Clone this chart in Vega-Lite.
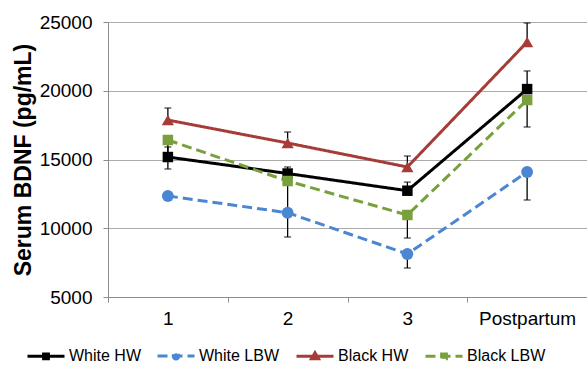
{
  "$schema": "https://vega.github.io/schema/vega-lite/v6.json",
  "width": 479,
  "height": 275,
  "autosize": {"type": "none"},
  "padding": {"left": 108, "top": 22, "right": 0, "bottom": 68},
  "background": "white",
  "config": {
    "view": {"stroke": null},
    "font": "Liberation Sans",
    "axis": {"labelFont": "Liberation Sans", "titleFont": "Liberation Sans", "labelColor": "#000", "titleColor": "#000"},
    "legend": {"labelFont": "Liberation Sans"}
  },
  "data": {
    "values": [
      {"series": "White HW", "time": "1", "value": 15180, "lo": 15180, "hi": 15910, "cap": 15910},
      {"series": "White HW", "time": "2", "value": 13980, "lo": 13980, "hi": 14455, "cap": 14455},
      {"series": "White HW", "time": "3", "value": 12730, "lo": 12730, "hi": 13360, "cap": 13360},
      {"series": "White HW", "time": "Postpartum", "value": 20120, "lo": 20120, "hi": 21440, "cap": 21440},
      {"series": "White LBW", "time": "1", "value": 12345, "lo": 12055, "hi": 12345, "cap": 12055},
      {"series": "White LBW", "time": "2", "value": 11130, "lo": 9364, "hi": 11130, "cap": 9364},
      {"series": "White LBW", "time": "3", "value": 8127, "lo": 7109, "hi": 8127, "cap": 7109},
      {"series": "White LBW", "time": "Postpartum", "value": 14091, "lo": 12055, "hi": 14091, "cap": 12055},
      {"series": "Black HW", "time": "1", "value": 17870, "lo": 17870, "hi": 18745, "cap": 18745},
      {"series": "Black HW", "time": "2", "value": 16200, "lo": 16200, "hi": 17000, "cap": 17000},
      {"series": "Black HW", "time": "3", "value": 14455, "lo": 14455, "hi": 15255, "cap": 15255},
      {"series": "Black HW", "time": "Postpartum", "value": 23545, "lo": 23545, "hi": 24927, "cap": 24927},
      {"series": "Black LBW", "time": "1", "value": 16420, "lo": 14310, "hi": 16420, "cap": 14310},
      {"series": "Black LBW", "time": "2", "value": 13436, "lo": 11400, "hi": 13436, "cap": 11400},
      {"series": "Black LBW", "time": "3", "value": 10964, "lo": 9291, "hi": 10964, "cap": 9291},
      {"series": "Black LBW", "time": "Postpartum", "value": 19327, "lo": 17364, "hi": 19327, "cap": 17364}
    ]
  },
  "encoding": {
    "x": {
      "field": "time", "type": "ordinal", "bandPosition": 0.5,
      "scale": {"type": "band", "domain": ["1", "2", "3", "Postpartum"], "paddingInner": 0, "paddingOuter": 0},
      "axis": {"title": null, "labelAngle": 0, "tickBand": "extent", "domainColor": "#8c8c8c", "tickColor": "#8c8c8c", "tickSize": 5, "labelFontSize": 19, "labelPadding": 7, "grid": false}
    },
    "y": {"field": "value", "type": "quantitative", "scale": {"domain": [5000, 25000], "nice": false},
      "axis": {"values": [5000, 10000, 15000, 20000, 25000], "format": "d", "grid": true, "gridColor": "#ababab", "domainColor": "#8c8c8c", "tickColor": "#8c8c8c", "tickSize": 5, "labelFontSize": 19, "labelPadding": 11, "title": "Serum BDNF (pg/mL)", "titleFontSize": 23, "titleFontWeight": "bold", "titlePadding": 4}}
  },
  "layer": [
    {
      "mark": {"type": "rule", "color": "#000", "strokeWidth": 1.3},
      "encoding": {
        "y": {"field": "lo", "type": "quantitative"},
        "y2": {"field": "hi"}
      }
    },
    {
      "mark": {"type": "tick", "color": "#000", "thickness": 1.3, "size": 7, "orient": "horizontal"},
      "encoding": {"y": {"field": "cap", "type": "quantitative"}}
    },
    {
      "mark": {"type": "line", "strokeWidth": 3},
      "encoding": {
        "stroke": {"field": "series", "type": "nominal", "title": null,
          "scale": {"domain": ["White HW", "White LBW", "Black HW", "Black LBW"], "range": ["#000000", "#4a86d2", "#a63c38", "#78a03c"]}},
        "strokeDash": {"field": "series", "type": "nominal", "title": null,
          "scale": {"domain": ["White HW", "White LBW", "Black HW", "Black LBW"], "range": [[1, 0], [10, 5], [1, 0], [10, 5]]}}
      }
    },
    {
      "transform": [{"filter": "datum.series === 'White HW'"}],
      "mark": {"type": "point", "filled": true, "opacity": 1, "shape": "square", "size": 110, "color": "#000000"}
    },
    {
      "transform": [{"filter": "datum.series === 'White LBW'"}],
      "mark": {"type": "point", "filled": true, "opacity": 1, "shape": "circle", "size": 140, "color": "#4a86d2"}
    },
    {
      "transform": [{"filter": "datum.series === 'Black HW'"}],
      "mark": {"type": "point", "filled": true, "opacity": 1, "shape": "triangle-up", "size": 150, "color": "#a63c38"}
    },
    {
      "transform": [{"filter": "datum.series === 'Black LBW'"}],
      "mark": {"type": "point", "filled": true, "opacity": 1, "shape": "square", "size": 110, "color": "#78a03c"}
    },
    {
      "mark": {"type": "point", "filled": true, "opacity": 0},
      "encoding": {
        "shape": {"field": "series", "type": "nominal", "title": null,
          "scale": {"domain": ["White HW", "White LBW", "Black HW", "Black LBW"],
            "range": ["M-1,0H1M-0.13,-0.13H0.13V0.13H-0.13Z", "M-1,0H1M0.15,0A0.15,0.15 0 1,1 -0.15,0A0.15,0.15 0 1,1 0.15,0Z", "M-1,0H1M0,-0.19L0.19,0.13H-0.19Z", "M-1,0H1M-0.13,-0.13H0.13V0.13H-0.13Z"]},
          "legend": {"orient": "none", "legendX": -82, "legendY": 314, "direction": "horizontal", "symbolSize": 1369, "symbolStrokeWidth": 3, "symbolOpacity": 1, "labelFontSize": 16, "labelColor": "#000", "labelOffset": 3, "columnPadding": 10, "title": null,
            "encoding": {"symbols": {"update": {"fill": {"scale": "fill", "field": "value"}, "fillOpacity": {"value": 1}, "strokeDash": {"signal": "indexof(['White LBW','Black LBW'], datum.value) >= 0 ? [10,3] : [1,0]"}}}}}},
        "fill": {"field": "series", "type": "nominal", "title": null,
          "scale": {"domain": ["White HW", "White LBW", "Black HW", "Black LBW"], "range": ["#000000", "#4a86d2", "#a63c38", "#78a03c"]}},
        "stroke": {"field": "series", "type": "nominal", "title": null},
        "strokeDash": {"field": "series", "type": "nominal", "title": null}
      }
    }
  ]
}
